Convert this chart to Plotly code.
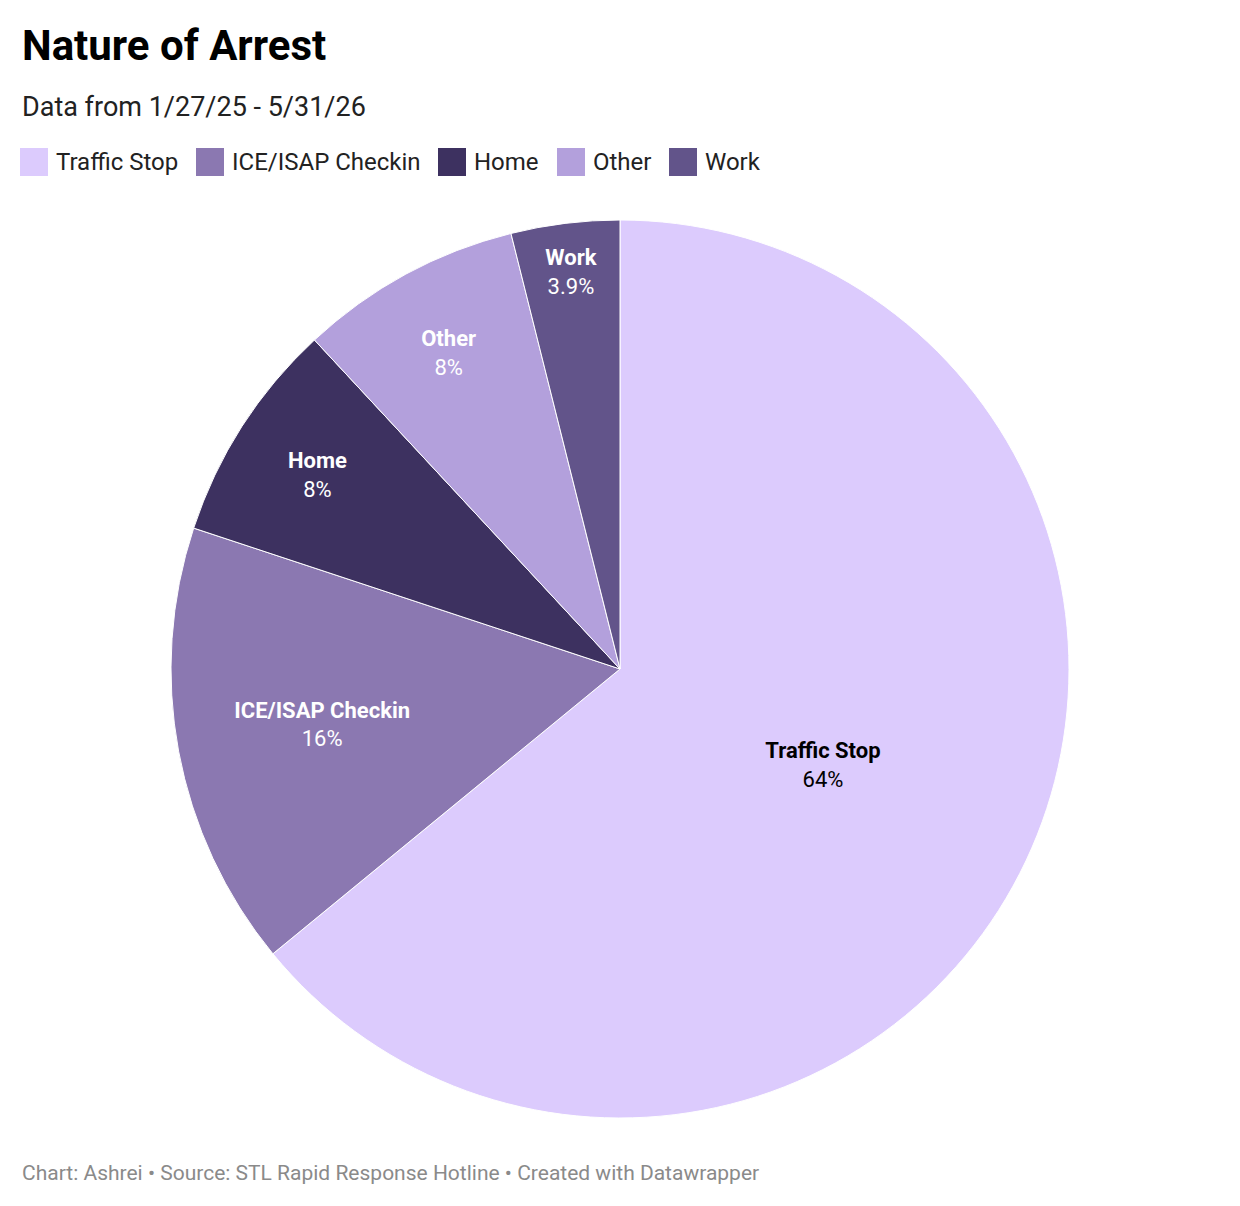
import plotly.graph_objects as go

labels = ["Traffic Stop", "ICE/ISAP Checkin", "Home", "Other", "Work"]
values = [64, 16, 8, 8, 3.9]
pct_text = ["64%", "16%", "8%", "8%", "3.9%"]
colors = ["#dccbfd", "#8b78b1", "#3d3160", "#b3a0dc", "#62548a"]
text_colors = ["#000000", "#ffffff", "#ffffff", "#ffffff", "#ffffff"]

W, H = 1240, 1206
OFF = 8  # page body margin compensation
cx, cy, r = 620 - OFF, 669 - OFF, 449

fig = go.Figure(go.Pie(
    labels=labels, values=values, text=pct_text, sort=False, direction="clockwise",
    rotation=0, marker=dict(colors=colors, line=dict(color="white", width=1)),
    texttemplate="<b>%{label}</b><br>%{text}", textinfo="text",
    textposition="inside", insidetextorientation="horizontal",
    textfont=dict(family="Roboto", size=22, color=text_colors),
    showlegend=False, hoverinfo="label+text",
    domain=dict(x=[(cx - r) / W, (cx + r) / W], y=[1 - (cy + r) / H, 1 - (cy - r) / H]),
))

ann = [
    dict(text="<b>Nature of Arrest</b>", x=(20 - OFF) / W, y=1 - (45 - OFF) / H, font=dict(size=42, color="#000")),
    dict(text="Data from 1/27/25 - 5/31/26", x=(20 - OFF) / W, y=1 - (107 - OFF) / H, font=dict(size=27, color="#222")),
    dict(text="Chart: Ashrei • Source: STL Rapid Response Hotline • Created with Datawrapper",
         x=(20 - OFF) / W, y=1 - (1173 - OFF) / H, font=dict(size=21, color="#8a8a8a")),
]
shapes = []
lx = [20, 196, 438, 557, 669]
for x0, lab, col in zip(lx, labels, colors):
    x0 -= OFF
    shapes.append(dict(type="rect", xref="paper", yref="paper", x0=x0 / W, x1=(x0 + 28) / W,
                       y0=1 - (176 - OFF) / H, y1=1 - (148 - OFF) / H, fillcolor=col, line=dict(width=0)))
    ann.append(dict(text=lab, x=(x0 + 34) / W, y=1 - (162 - OFF) / H, font=dict(size=24, color="#222")))
for a in ann:
    a.update(xref="paper", yref="paper", xanchor="left", yanchor="middle", showarrow=False)
    a["font"]["family"] = "Roboto"

fig.update_layout(width=W, height=H, margin=dict(l=0, r=0, t=0, b=0),
                  paper_bgcolor="white", annotations=ann, shapes=shapes,
                  font=dict(family="Roboto"))
fig.write_html("out.html")
